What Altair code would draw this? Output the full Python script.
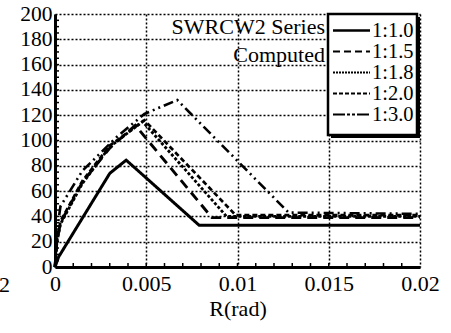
import altair as alt
import pandas as pd

# Story drift R (rad) and lateral load for each aspect-ratio specimen
series = ["1:1.0", "1:1.5", "1:1.8", "1:2.0", "1:3.0"]

r_10 = [0.0, 0.0002, 0.0030, 0.0039, 0.0079, 0.0200]
v_10 = [0.0, 8.0, 74.0, 84.5, 33.0, 33.0]

r_15 = [0.0, 0.0001, 0.0003, 0.0015, 0.0030, 0.0044, 0.0086, 0.0200]
v_15 = [0.0, 20.0, 35.0, 67.0, 94.0, 112.0, 39.0, 39.0]

r_18 = [0.0, 0.0001, 0.0003, 0.0015, 0.0030, 0.0048, 0.0094, 0.0200]
v_18 = [0.0, 19.0, 34.0, 66.0, 95.0, 115.0, 40.0, 40.0]

r_20 = [0.0, 0.0001, 0.0003, 0.0015, 0.0030, 0.0049, 0.0099, 0.0200]
v_20 = [0.0, 21.0, 36.0, 68.0, 96.0, 116.0, 41.0, 41.0]

r_30 = [0.0, 0.0001, 0.0003, 0.0015, 0.0034, 0.0049, 0.0067, 0.0128, 0.0200]
v_30 = [0.0, 28.0, 48.0, 76.0, 103.0, 121.0, 132.0, 43.0, 42.0]

x_ticks = [0, 0.005, 0.01, 0.015, 0.02]
y_ticks = list(range(0, 201, 20))
x_minor = [i / 1000 for i in range(1, 20)]
y_minor = list(range(5, 200, 5))

rows = []
for name, rs, vs in zip(series, [r_10, r_15, r_18, r_20, r_30],
                        [v_10, v_15, v_18, v_20, v_30]):
    for i, (r, v) in enumerate(zip(rs, vs)):
        rows.append({"series": name, "R": r, "V": v, "order": i})
df = pd.DataFrame(rows)

W, H = 365, 253
FONT = "Liberation Serif"

xscale = alt.Scale(domain=[0, 0.02], nice=False, zero=False)
yscale = alt.Scale(domain=[0, 200], nice=False)
xaxis = alt.Axis(values=x_ticks, format="~g", title="R(rad)", grid=True,
                 ticks=False, labelPadding=6, titlePadding=4, labelFlush=False,
                 labelFontSize=22)
yaxis = alt.Axis(values=y_ticks, title=None, grid=True, ticks=False,
                 labelPadding=3, labelFontSize=21.5)

dashes = [[1, 0], [10, 6], [3, 2], [5, 3], [10, 4, 2, 4, 2, 4]]
widths = [3.0, 2.6, 2.6, 2.6, 2.6]
legend_dashes = [[1, 0], [7, 4], [2, 1], [4, 2], [12, 2, 3, 2, 3, 2]]

lines = alt.Chart(df).mark_line(color="black", strokeCap="butt").encode(
    x=alt.X("R:Q", scale=xscale, axis=xaxis),
    y=alt.Y("V:Q", scale=yscale, axis=yaxis),
    strokeDash=alt.StrokeDash("series:N",
                              scale=alt.Scale(domain=series, range=dashes),
                              legend=None),
    strokeWidth=alt.StrokeWidth("series:N",
                                scale=alt.Scale(domain=series, range=widths),
                                legend=None),
    order="order:Q",
)

# inward minor ticks along both axes
xmin_df = pd.DataFrame({"R": x_minor})
ymin_df = pd.DataFrame({"V": y_minor})
xticks = alt.Chart(xmin_df).mark_rule(color="black", strokeWidth=1.5).encode(
    x=alt.X("R:Q", scale=xscale, axis=xaxis), y=alt.value(H), y2=alt.value(H - 4))
yticks = alt.Chart(ymin_df).mark_rule(color="black", strokeWidth=1.5).encode(
    y=alt.Y("V:Q", scale=yscale, axis=yaxis), x=alt.value(0), x2=alt.value(4))

one = pd.DataFrame({"a": [0]})


def note(text, y):
    return alt.Chart(one).mark_text(
        font=FONT, fontSize=22, align="right", baseline="alphabetic",
        color="black", text=text,
    ).encode(x=alt.value(270), y=alt.value(y))


notes = [note("SWRCW2 Series", 20), note("Computed", 48)]

# legend frame with its drop shadow
LX0, LX1, LY0, LY1 = 273, 362, 0, 121
shadow = alt.Chart(one).mark_rect(color="black").encode(
    x=alt.value(LX0 + 3), x2=alt.value(LX1 + 3),
    y=alt.value(LY0 + 3), y2=alt.value(LY1 + 3))
frame = alt.Chart(one).mark_rect(fill="white", stroke="black", strokeWidth=2.5).encode(
    x=alt.value(LX0), x2=alt.value(LX1), y=alt.value(LY0), y2=alt.value(LY1))

legend_layers = []
for i, name in enumerate(series):
    ly = 16.5 + 21 * i
    legend_layers.append(
        alt.Chart(one).mark_rule(
            color="black", strokeWidth=2.4 if i == 0 else 2.0,
            strokeDash=legend_dashes[i], strokeCap="butt",
        ).encode(x=alt.value(LX0 + 5), x2=alt.value(LX0 + 42), y=alt.value(ly))
    )
    legend_layers.append(
        alt.Chart(one).mark_text(
            font=FONT, fontSize=20.5, align="left", baseline="alphabetic",
            color="black", text=name,
        ).encode(x=alt.value(LX0 + 44), y=alt.value(ly + 6.5))
    )

stray = alt.Chart(one).mark_text(
    font=FONT, fontSize=22, align="right", baseline="top", color="black", text="2"
).encode(x=alt.value(-45), y=alt.value(H + 8))

chart = alt.layer(
    xticks, yticks, lines, *notes, shadow, frame, *legend_layers, stray
).properties(
    width=W, height=H,
    autosize=alt.AutoSizeParams(type="none"),
    padding={"left": 55, "top": 14, "right": 31, "bottom": 66},
).configure_view(stroke=None).configure_axis(
    labelFont=FONT, labelColor="black",
    titleFont=FONT, titleFontSize=22, titleFontWeight="normal", titleColor="black",
    domainColor="black", domainWidth=3,
    gridColor="black", gridDash=[2, 2], gridWidth=1.5, gridOpacity=1,
)

chart.save("out.html", embed_options={"renderer": "svg", "actions": False})
